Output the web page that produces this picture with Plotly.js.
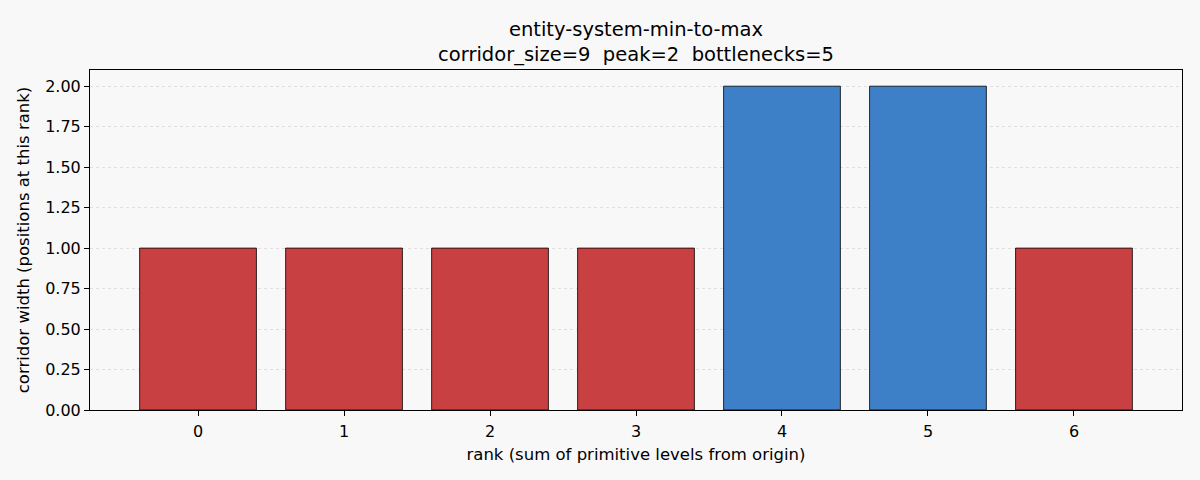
<!DOCTYPE html>
<html>
<head>
<meta charset="utf-8">
<script src="https://cdn.plot.ly/plotly-3.0.1.min.js"></script>
<style>
  html, body { margin: 0; padding: 0; background: #f8f8f8; }
  #plot { width: 1200px; height: 480px; }
</style>
</head>
<body>
<div id="plot"></div>
<script>
const ranks = [0, 1, 2, 3, 4, 5, 6];
const widths = [1, 1, 1, 1, 2, 2, 1];
const peak = 2;

const red = '#c84041';
const blue = '#3e80c7';
const colors = widths.map(w => (w === peak ? blue : red));

const trace = {
  x: ranks,
  y: widths,
  type: 'bar',
  width: 0.8,
  marker: {
    color: colors,
    line: { color: '#000000', width: 0.8 },
  },
  hoverinfo: 'skip',
};

const font = { family: 'DejaVu Sans, sans-serif', color: '#000000' };

const layout = {
  width: 1200,
  height: 480,
  paper_bgcolor: '#f8f8f8',
  plot_bgcolor: '#f8f8f8',
  font: Object.assign({ size: 16 }, font),
  title: {
    text: 'entity-system-min-to-max<br>corridor_size=9  peak=2  bottlenecks=5',
    font: Object.assign({ size: 19.5 }, font),
    xref: 'paper',
    x: 0.5,
    xanchor: 'center',
    yref: 'container',
    y: 0.925,
    yanchor: 'top',
  },
  xaxis: {
    range: [-0.74, 6.74],
    tickmode: 'array',
    tickvals: ranks,
    ticktext: ranks.map(String),
    ticks: 'outside',
    ticklen: 5,
    tickcolor: '#000',
    ticklabelstandoff: 2,
    showline: true,
    linecolor: '#000',
    linewidth: 1,
    mirror: true,
    showgrid: false,
    zeroline: false,
    tickfont: { size: 16 },
    title: { text: 'rank (sum of primitive levels from origin)', font: { size: 16.5 }, standoff: 8 },
  },
  yaxis: {
    range: [0, 2.1],
    tickmode: 'array',
    tickvals: [0, 0.25, 0.5, 0.75, 1, 1.25, 1.5, 1.75, 2],
    tickformat: '.2f',
    ticks: 'outside',
    ticklen: 5,
    tickcolor: '#000',
    showline: true,
    linecolor: '#000',
    linewidth: 1,
    mirror: true,
    showgrid: true,
    gridcolor: '#d8d8d8',
    griddash: 'dot',
    gridwidth: 0.8,
    zeroline: false,
    tickfont: { size: 16 },
    title: { text: 'corridor width (positions at this rank)', font: { size: 16.5 }, standoff: 11 },
  },
  showlegend: false,
  bargap: 0.2,
  margin: { l: 90, r: 18, t: 70, b: 70 },
};

const config = {
  displayModeBar: false,
  staticPlot: true,
};

Plotly.newPlot('plot', [trace], layout, config);
</script>
</body>
</html>
